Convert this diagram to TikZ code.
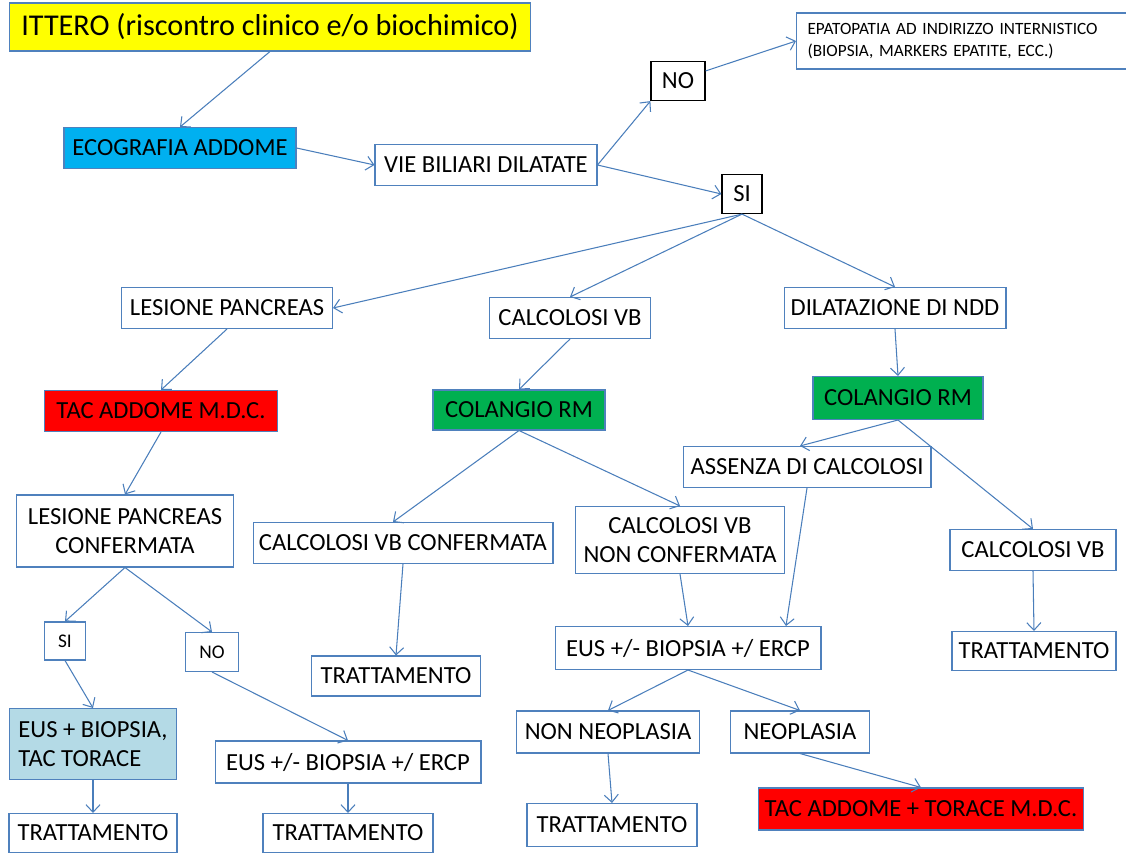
\documentclass[tikz,border=0pt]{standalone}
\usepackage{fontspec}
\setmainfont{Carlito}
\usetikzlibrary{arrows.meta}

\definecolor{ittyellow}{HTML}{FFFF00}
\definecolor{ecoblue}{HTML}{00B0F0}
\definecolor{tacred}{HTML}{FF0000}
\definecolor{rmgreen}{HTML}{00B050}
\definecolor{eusblue}{HTML}{B4DAE6}
\definecolor{boxline}{HTML}{4F81BD}
\definecolor{linkline}{HTML}{4A7EBB}

\begin{document}
\begin{tikzpicture}[x=0.02cm, y=-0.02cm,
	box/.style={draw=boxline, fill=white, line width=0.6pt, inner sep=0pt,
		minimum height=0.82cm, font=\fontsize{14}{16.5}\selectfont},
	yesno/.style={box, draw=black, line width=0.7pt},
	smallbox/.style={box, font=\fontsize{11}{12}\selectfont},
	every edge/.style={draw=linkline, line width=0.6pt,
		-{Straight Barb[length=1.5mm,width=2.8mm]}}]
	\clip (0,0) rectangle (1126,854);

	\node[box, fill=ittyellow, minimum width=10.42cm, minimum height=0.96cm, font=\fontsize{17.2}{20}\selectfont] (itt) at (270,27) {ITTERO (riscontro clinico e/o biochimico)};
	\node[box, fill=ecoblue, minimum width=4.64cm] (eco) at (180,148) {ECOGRAFIA ADDOME};
	\node[box, minimum width=4.44cm] (vie) at (486,165) {VIE BILIARI DILATATE};
	\node[yesno, minimum width=1.08cm, minimum height=0.78cm] (no) at (678,81) {NO};
	\node[box, anchor=west, minimum height=1.12cm, inner xsep=0.22cm, text width=6.6cm, align=left, font=\fontsize{9.8}{12.5}\selectfont] (epa) at (796,41) {EPATOPATIA AD INDIRIZZO INTERNISTICO\\(BIOPSIA, MARKERS EPATITE, ECC.)};
	\node[yesno, minimum width=0.8cm, minimum height=0.78cm] (si) at (742,194) {SI};
	\node[box, minimum width=4.22cm] (lp) at (227,308) {LESIONE PANCREAS};
	\node[box, minimum width=3.22cm] (cvb) at (570,318) {CALCOLOSI VB};
	\node[box, minimum width=4.44cm] (dil) at (895,308) {DILATAZIONE DI NDD};
	\node[box, fill=tacred, minimum width=4.66cm] (tac) at (161,411) {TAC ADDOME M.D.C.};
	\node[box, fill=rmgreen, minimum width=3.44cm, minimum height=0.8cm] (colm) at (519,410) {COLANGIO RM};
	\node[box, fill=rmgreen, minimum width=3.4cm, minimum height=0.86cm] (colr) at (898,398) {COLANGIO RM};
	\node[box, minimum width=4.96cm] (ass) at (807,467) {ASSENZA DI CALCOLOSI};
	\node[box, minimum width=4.34cm, minimum height=1.44cm, align=center] (lpc) at (125,531) {LESIONE PANCREAS\\CONFERMATA};
	\node[box, minimum width=6cm] (cvbc) at (403,543) {CALCOLOSI VB CONFERMATA};
	\node[box, minimum width=4.18cm, minimum height=1.34cm, align=center] (cvbn) at (680,540) {CALCOLOSI VB\\NON CONFERMATA};
	\node[box, minimum width=3.32cm] (cvbr) at (1033,550) {CALCOLOSI VB};
	\node[smallbox, minimum width=0.82cm, minimum height=0.76cm] (si2) at (65,641) {SI};
	\node[smallbox, minimum width=1.06cm, minimum height=0.78cm] (no2) at (212,652) {NO};
	\node[box, minimum width=3.38cm, minimum height=0.8cm] (tr1) at (396,676) {TRATTAMENTO};
	\node[box, minimum width=5.32cm, minimum height=0.86cm] (eus1) at (688,648) {EUS +/- BIOPSIA +/ ERCP};
	\node[box, minimum width=3.28cm, minimum height=0.78cm] (tr2) at (1034,651) {TRATTAMENTO};
	\node[box, fill=eusblue, minimum width=3.34cm, minimum height=1.42cm, align=left] (eusb) at (93,744) {EUS + BIOPSIA,\\TAC TORACE};
	\node[box, minimum width=5.32cm, minimum height=0.84cm] (eus2) at (348,762) {EUS +/- BIOPSIA +/ ERCP};
	\node[box, minimum width=3.66cm, minimum height=0.84cm] (nneo) at (608,732) {NON NEOPLASIA};
	\node[box, minimum width=2.78cm, minimum height=0.84cm] (neo) at (800,732) {NEOPLASIA};
	\node[box, minimum width=3.36cm, minimum height=0.78cm] (tr3) at (93,833) {TRATTAMENTO};
	\node[box, minimum width=3.4cm, minimum height=0.78cm] (tr4) at (348,833) {TRATTAMENTO};
	\node[box, minimum width=3.4cm, minimum height=0.86cm] (tr5) at (612,825) {TRATTAMENTO};
	\node[box, fill=tacred, minimum width=6.5cm, minimum height=0.84cm] (tac2) at (921,809) {TAC ADDOME + TORACE M.D.C.};

	\path
	(itt.south) edge (eco.north)
	(eco.east) edge (vie.west)
	(vie.east) edge (no.south west)
	(vie.east) edge (si.west)
	(no.20) edge (epa.west)
	(si.south) edge (lp.east)
	(si.south) edge (cvb.north)
	(si.south) edge (dil.north)
	(lp.south) edge (tac.north)
	(tac.south) edge (lpc.north)
	(lpc.south) edge (si2.north)
	(lpc.south) edge (no2.north)
	(si2.south) edge (eusb.north)
	(no2.south) edge (eus2.north)
	(eusb.south) edge (tr3.north)
	(eus2.south) edge (tr4.north)
	(cvb.south) edge (colm.north)
	(colm.south) edge ([xshift=-0.2cm]cvbc.north)
	(colm.south) edge (cvbn.north)
	(cvbc.south) edge (tr1.north)
	(cvbn.south) edge (eus1.north)
	(ass.south) edge ([xshift=1.96cm]eus1.north)
	(dil.south) edge (colr.north)
	(colr.south) edge ([xshift=-0.14cm]ass.north)
	(colr.south) edge (cvbr.north)
	(cvbr.south) edge (tr2.north)
	(eus1.south) edge (nneo.north)
	(eus1.south) edge (neo.north)
	(nneo.south) edge (tr5.north)
	(neo.south) edge (tac2.north);
\end{tikzpicture}
\end{document}
